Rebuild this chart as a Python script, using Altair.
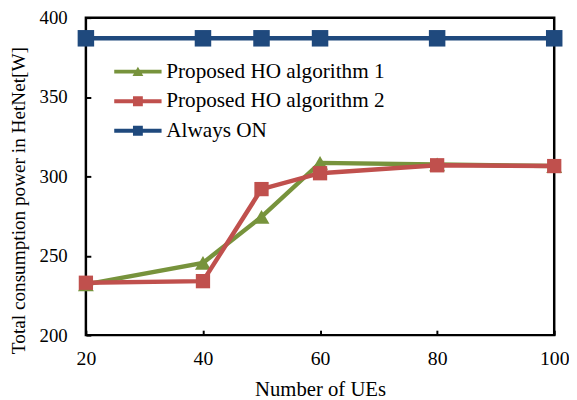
import altair as alt
import pandas as pd

# ---- data ----
num_ues = [20, 40, 50, 60, 80, 100]
alg1_power = [232, 245.5, 274.5, 308.5, 307.5, 306.5]
alg2_power = [233, 234, 292, 302, 307, 306.5]
always_on_power = [387, 387, 387, 387, 387, 387]

series_names = ["Proposed HO algorithm 1", "Proposed HO algorithm 2", "Always ON"]
series_colors = ["#77933C", "#C0504D", "#1F497D"]
x_ticks = [20, 40, 60, 80, 100]
y_ticks = [200, 250, 300, 350, 400]

rows = []
for name, vals in zip(series_names, [alg1_power, alg2_power, always_on_power]):
    for xv, yv in zip(num_ues, vals):
        rows.append({"ues": xv, "power": yv, "series": name})
df = pd.DataFrame(rows)

FONT = "Liberation Serif"
W, H = 475, 322

x_enc = alt.X(
    "ues:Q",
    scale=alt.Scale(domain=[20, 100], nice=False, zero=False),
    axis=alt.Axis(
        values=x_ticks, title="Number of UEs", grid=False, domain=False,
        offset=-5, tickSize=5, tickWidth=2, tickColor="black",
        labelFont=FONT, labelFontSize=20, labelColor="black",
        labelBaseline="alphabetic", labelPadding=30, labelFlush=False,
        labelOverlap=False,
        titleFont=FONT, titleFontSize=21, titleFontWeight="normal",
        titleColor="black", titleBaseline="alphabetic", titleY=66,
    ),
)
y_enc = alt.Y(
    "power:Q",
    scale=alt.Scale(domain=[200, 400], nice=False, zero=False),
    axis=alt.Axis(
        values=y_ticks, title="Total consumption power in HetNet[W]",
        grid=False, domain=False,
        offset=-5, tickSize=5, tickWidth=2, tickColor="black",
        labelFont=FONT, labelFontSize=19, labelColor="black", labelPadding=19,
        labelFlush=False, labelOverlap=False,
        titleFont=FONT, titleFontSize=19.5, titleFontWeight="normal",
        titleColor="black", titleBaseline="middle", titleY=185, titleX=-73,
    ),
)

base = alt.Chart(df)
shapes = {"Proposed HO algorithm 1": ("triangle-up", 260),
          "Proposed HO algorithm 2": ("square", 210),
          "Always ON": ("square", 280)}

layers = []
for name, color in zip(["Always ON", "Proposed HO algorithm 1", "Proposed HO algorithm 2"],
                       [series_colors[2], series_colors[0], series_colors[1]]):
    sub = base.transform_filter(alt.datum.series == name)
    layers.append(sub.mark_line(color=color, strokeWidth=4.5).encode(x=x_enc, y=y_enc))
    shp, sz = shapes[name]
    layers.append(sub.mark_point(shape=shp, size=sz, filled=True, color=color,
                                 opacity=1, strokeWidth=0).encode(x=x_enc, y=y_enc))

legend_paths = [
    "M-2.4,-0.2H2.4V0.2H-2.4Z M-0.55,0.45L0,-0.5L0.55,0.45Z",
    "M-2.4,-0.2H2.4V0.2H-2.4Z M-0.5,-0.5H0.5V0.5H-0.5Z",
    "M-2.4,-0.2H2.4V0.2H-2.4Z M-0.5,-0.5H0.5V0.5H-0.5Z",
]
leg = alt.Legend(
    title=None, orient="none", legendX=42, legendY=44,
    labelFont=FONT, labelFontSize=21.5, labelColor="black", labelLimit=0,
    symbolSize=400, symbolStrokeWidth=0, labelOffset=18, rowPadding=7,
    padding=0, symbolOpacity=1,
)
legend_layer = base.transform_filter("false").mark_point(filled=True, opacity=1).encode(
    x=x_enc, y=y_enc,
    color=alt.Color("series:N", scale=alt.Scale(domain=series_names, range=series_colors), legend=leg),
    shape=alt.Shape("series:N", scale=alt.Scale(domain=series_names, range=legend_paths), legend=leg),
)
layers.append(legend_layer)

chart = alt.layer(*layers).properties(
    width=W, height=H,
    padding={"left": 79, "top": 7, "right": 15, "bottom": 63},
    autosize=alt.AutoSizeParams(type="none"),
    background="white",
).configure_view(stroke="black", strokeWidth=2.5)

chart.save("out.html", embed_options={"renderer": "svg", "actions": False})
